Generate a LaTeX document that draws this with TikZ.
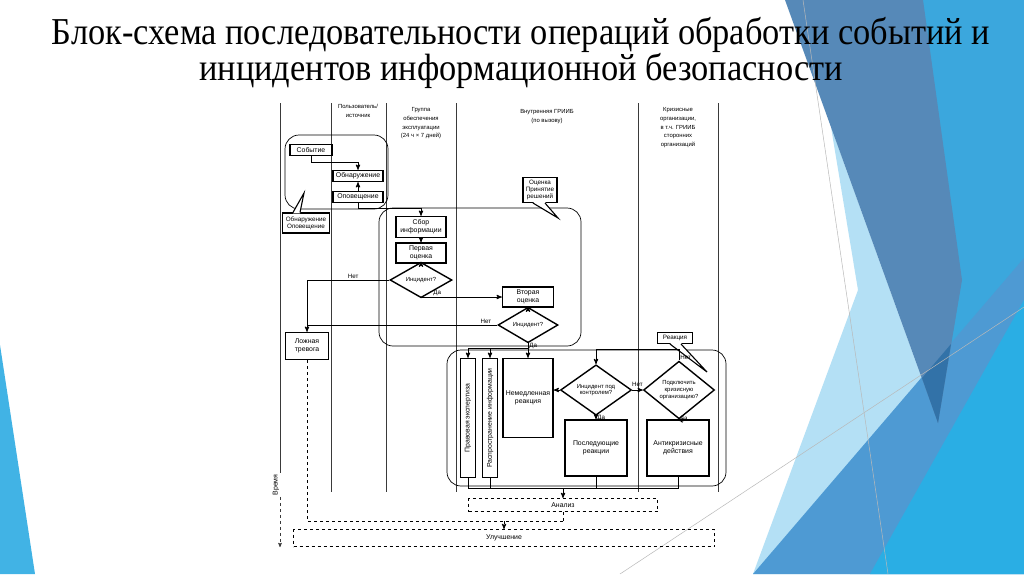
\documentclass[tikz,border=0pt]{standalone}
\usepackage{fontspec}
\setmainfont{Liberation Sans}
\newfontfamily\zagfont{Liberation Serif}
\usetikzlibrary{arrows,shapes.geometric,positioning}

\definecolor{stal}{HTML}{5689B8}
\definecolor{temn}{HTML}{3272A8}
\definecolor{sred}{HTML}{4E9AD3}
\definecolor{yark}{HTML}{2AAEE4}
\definecolor{nebo}{HTML}{3BA7DD}
\definecolor{bled}{HTML}{B4E0F5}
\definecolor{klin}{HTML}{41B3E5}
\definecolor{liniya}{HTML}{3A3A3A}

\begin{document}
\begin{tikzpicture}
[x=1pt,y=-1pt,>=stealth',line width=0.9pt,font=\fontsize{6.9}{7.8}\selectfont]

  \tikzstyle{blok}=[draw,line width=1.4pt,fill=white,inner sep=1pt,align=center]
  \tikzstyle{romb}=[draw,diamond,line width=1.4pt,fill=white,inner sep=0pt,align=center,font=\fontsize{5.9}{6.8}\selectfont]
  \tikzstyle{oblast}=[draw,rounded corners=14pt,line width=0.7pt]
  \tikzstyle{vynoska}=[draw,line width=1.1pt,fill=white,inner sep=1.5pt,align=center,font=\fontsize{6.3}{7.2}\selectfont]
  \tikzstyle{shtrih}=[draw,dashed,line width=1pt,inner sep=1pt]
  \tikzstyle{dorozhka}=[liniya,line width=0.6pt]
  \tikzstyle{metka}=[font=\fontsize{6.2}{7}\selectfont,inner sep=1pt]
  \tikzstyle{shapka}=[font=\fontsize{5.9}{8.8}\selectfont,inner sep=0pt,align=center,anchor=north]

  \useasboundingbox (0,0) rectangle (1024,574);
  \fill[white] (0,0) rectangle (1024,574);

  % slide background
  \fill[nebo] (923,0) -- (1024,0) -- (1024,574) -- (850,574) -- (938,423) -- cycle;
  \fill[bled] (831,127) -- (858,290) -- (753,574) -- (850,574) -- (938,423) -- cycle;
  \fill[sred] (753,574) -- (1024,258) -- (1024,574) -- cycle;
  \fill[stal] (785,0) -- (923,0) -- (962,280) -- (938,423) -- cycle;
  \fill[temn] (922,378) -- (951,344) -- (938,423) -- cycle;
  \fill[yark] (1024,300) -- (1024,574) -- (870,574) -- cycle;
  \fill[klin] (0,345) -- (35,574) -- (0,574) -- cycle;
  \draw[gray!55,line width=0.5pt] (803,0) -- (888,574);
  \draw[gray!55,line width=0.5pt] (620,574) -- (1024,307);

  \node[font=\zagfont\fontsize{38}{33}\selectfont,align=center] (zagolovok) at (521,53)
    {\scalebox{0.905}[1]{Блок-схема последовательности операций обработки событий и}\\
     \scalebox{0.905}[1]{инцидентов информационной безопасности}};

  % lanes
  \foreach \x in {331,386,456,638,718}
    \draw[dorozhka] (\x,103) -- (\x,492);
  \coordinate (os) at (280,103);
  \coordinate (osniz) at (280,547);
  \node[metka,rotate=90,font=\fontsize{7}{8}\selectfont] (vremya) at (276,485) {Время};
  \draw[dorozhka] (os) -- (os |- vremya.east);
  \draw[dorozhka,->,dashed] (os |- vremya.west) -- (osniz);

  \node[shapka] (polz)   at (358,104) {Пользователь/\\источник};
  \node[shapka] (gruppa) at (421,107) {Группа\\обеспечения\\эксплуатации\\(24 ч × 7 дней)};
  \node[shapka] (vnutr)  at (547,109) {Внутренняя ГРИИБ\\(по вызову)};
  \node[shapka] (kriz)   at (678,107) {Кризисные\\организации,\\в т.ч. ГРИИБ\\сторонних\\организаций};

  % regions
  \draw[oblast] (285,135) rectangle (388,209);
  \draw[oblast] (379,208) rectangle (581,346);
  \draw[oblast] (447,350) rectangle (726,486);

  \node[blok,minimum width=42pt,minimum height=11pt] (sobytie) at (311,150) {Событие};
  \node[blok,minimum width=50pt,minimum height=11pt] (obnar) at (358,176) {Обнаружение};
  \node[blok,minimum width=50pt,minimum height=11pt,node distance=21pt] (opov) [below of=obnar] {Оповещение};
  \node[blok,minimum width=50pt,minimum height=21pt] (sbor) at (421,227) {Сбор\\информации};
  \node[blok,minimum width=50pt,minimum height=20pt,node distance=26pt] (perv) [below of=sbor] {Первая\\оценка};
  \node[romb,minimum width=62pt,minimum height=24pt] (inc1) at (421,280) {Инцидент?};
  \node[blok,minimum width=51pt,minimum height=20pt] (vtor) at (528,297) {Вторая\\оценка};
  \node[romb,minimum width=60pt,minimum height=24pt] (inc2) at (528,325) {Инцидент?};
  \node[blok,minimum width=43pt,minimum height=27pt] (lozh) at (307,346) {Ложная\\тревога};

  \node[blok,minimum width=15pt,minimum height=119pt,inner sep=0pt] (prav) at (468,418) {\rotatebox{90}{Правовая экспертиза}};
  \node[blok,minimum width=15pt,minimum height=119pt,inner sep=0pt] (rasp) at (490,418) {\rotatebox{90}{Распространение информации}};
  \node[blok,minimum width=50pt,minimum height=79pt] (nemed) at (528,398) {Немедленная\\реакция};
  \node[romb,minimum width=71pt,minimum height=44pt] (inc3) at (596,390) {Инцидент под\\контролем?};
  \node[romb,minimum width=71pt,minimum height=44pt] (podkl) at (679,390) {Подключить\\кризисную\\организацию?};
  \node[blok,minimum width=62pt,minimum height=56pt] (posl) at (596,448) {Последующие\\реакции};
  \node[blok,minimum width=62pt,minimum height=56pt] (anti) at (678,448) {Антикризисные\\действия};

  \node[shtrih,minimum width=189pt,minimum height=13pt] (analiz) at (563,505) {Анализ};
  \node[shtrih,minimum width=421pt,minimum height=17pt] (uluch) at (504,538) {Улучшение};

  % callouts
  \node[vynoska,minimum width=47pt,minimum height=20pt] (obnopov) at (306,223) {Обнаружение\\Оповещение};
  \fill[white] ([xshift=-13pt,yshift=-1pt]obnopov.north) -- (304,193) -- ([xshift=-6pt,yshift=-1pt]obnopov.north) -- cycle;
  \draw[line width=1.1pt] ([xshift=-13pt]obnopov.north) -- (304,193) -- ([xshift=-6pt]obnopov.north);
  \node[vynoska,minimum width=34pt,minimum height=25pt] (ocenka) at (540,190) {Оценка\\Принятие\\решений};
  \fill[white] ([xshift=-7pt,yshift=1pt]ocenka.south) -- (558,218) -- ([xshift=5pt,yshift=1pt]ocenka.south) -- cycle;
  \draw[line width=1.1pt] ([xshift=-7pt]ocenka.south) -- (558,218) -- ([xshift=5pt]ocenka.south);
  \node[vynoska,minimum width=35pt,minimum height=11pt] (reakc) at (675,338) {Реакция};
  \fill[white] ([xshift=-5pt,yshift=1pt]reakc.south) -- (707,372) -- ([xshift=6pt,yshift=1pt]reakc.south) -- cycle;
  \draw[line width=1.1pt] ([xshift=-5pt]reakc.south) -- (707,372) -- ([xshift=6pt]reakc.south);

  % connectors
  \draw[->] (sobytie.south) -- ++(0,6) -| (obnar.north);
  \draw[<-] (obnar) -- (opov);
  \draw[->] (opov.south) -- ++(0,5) -| (sbor.north);
  \draw[->] (sbor) -- (perv);
  \draw[->] (perv) -- (inc1);
  \draw[->] (inc1.west) -| node[metka,pos=0.22,above]{Нет} (lozh.north);
  \draw[->] (inc1.south) |- node[metka,pos=0.6,above]{Да} (vtor.west);
  \draw[->] (vtor) -- (inc2);
  \draw (inc2.west) -- node[metka,pos=0.06,above]{Нет} (inc2.west -| lozh.north);
  \coordinate (razv) at (528,348);
  \draw (inc2.south) -- node[metka,right]{Да} (razv);
  \draw[->] (razv) -| (prav.north);
  \draw[->] (razv) -| (rasp.north);
  \draw[->] (razv) -- (nemed.north);
  \draw[->] (inc3.west) -- (inc3.west -| nemed.east);
  \draw[->] (inc3.east) -- node[metka,above=2pt]{Нет} (podkl.west);
  \draw[->] (podkl.north) -- node[metka,pos=0.3,right]{Нет} ++(0,-11) -| (inc3.north);
  \draw[->] (inc3.south) -- node[metka,pos=0.55,right]{Да} (posl.north);
  \draw[->] (podkl.south) -- node[metka,pos=0.55,right]{Да} (anti.north);

  \coordinate (sliyanie) at (563,488);
  \draw (prav.south) |- (anti.south |- sliyanie) -- (anti.south);
  \draw (rasp.south) -- (rasp.south |- sliyanie);
  \draw (posl.south) -- (posl.south |- sliyanie);
  \draw[->] (sliyanie) -- (analiz.north);

  \coordinate (itog) at (563,521);
  \draw[dashed] (lozh.south) |- (itog);
  \draw[dashed] (analiz.south) -- (itog);
  \draw[dashed,->] (uluch.north |- itog) -- (uluch.north);
\end{tikzpicture}
\end{document}
